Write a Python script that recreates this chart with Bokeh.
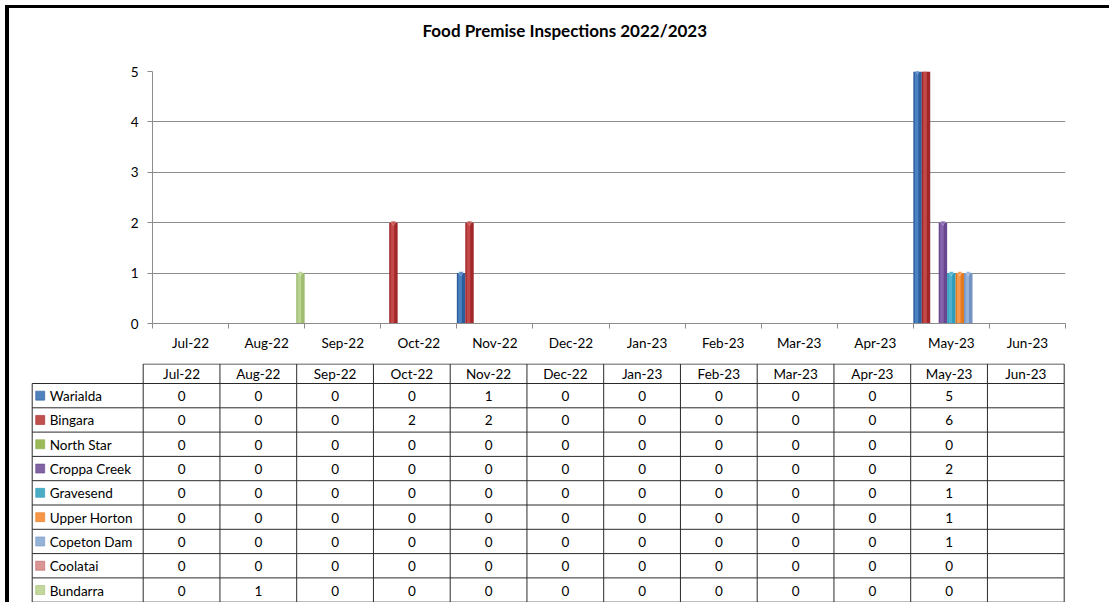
from bokeh.plotting import figure
from bokeh.models import Range1d, FixedTicker, Div, Title
from bokeh.layouts import column, row
from bokeh.embed import file_html
from bokeh.resources import INLINE
from bokeh.core.properties import value

months = ["Jul-22", "Aug-22", "Sep-22", "Oct-22", "Nov-22", "Dec-22",
          "Jan-23", "Feb-23", "Mar-23", "Apr-23", "May-23", "Jun-23"]
series = ["Warialda", "Bingara", "North Star", "Croppa Creek", "Gravesend",
          "Upper Horton", "Copeton Dam", "Coolatai", "Bundarra"]

warialda = [0, 0, 0, 0, 1, 0, 0, 0, 0, 0, 5, None]
bingara = [0, 0, 0, 2, 2, 0, 0, 0, 0, 0, 6, None]
north_star = [0, 0, 0, 0, 0, 0, 0, 0, 0, 0, 0, None]
croppa_creek = [0, 0, 0, 0, 0, 0, 0, 0, 0, 0, 2, None]
gravesend = [0, 0, 0, 0, 0, 0, 0, 0, 0, 0, 1, None]
upper_horton = [0, 0, 0, 0, 0, 0, 0, 0, 0, 0, 1, None]
copeton_dam = [0, 0, 0, 0, 0, 0, 0, 0, 0, 0, 1, None]
coolatai = [0, 0, 0, 0, 0, 0, 0, 0, 0, 0, 0, None]
bundarra = [0, 1, 0, 0, 0, 0, 0, 0, 0, 0, 0, None]
values = [warialda, bingara, north_star, croppa_creek, gravesend,
          upper_horton, copeton_dam, coolatai, bundarra]

y_ticks = [0, 1, 2, 3, 4, 5]
title_text = "Food Premise Inspections 2022/2023"

dark_colors = ["#2C5E9E", "#A1272B", "#86A84A", "#684790", "#2E9CBA",
               "#E47A1E", "#7392C2", "#BE6063", "#9EBD71"]
light_colors = ["#5287C7", "#C9504E", "#A6C46A", "#8A6AB0", "#55B5D0",
                "#F8A057", "#9BB7DC", "#D98E90", "#C0D796"]
swatch_colors = ["#4F81BD", "#C0504D", "#9BBB59", "#8064A2", "#4BACC6",
                 "#F79646", "#95B3D7", "#D99694", "#C3D69B"]

FONT = "Lato"
FS = "13.5px"
GRID = "#8C8C8C"
n_ser = len(series)

# ---------------- chart ----------------
p = figure(width=1100, height=355, output_backend="svg", toolbar_location=None,
           x_range=Range1d(-0.5, len(months) - 0.5), y_range=Range1d(0, 5),
           min_border_left=143, min_border_right=44, min_border_top=63,
           min_border_bottom=40)
p.frame_align = False
p.outline_line_color = None
p.background_fill_color = "white"
p.border_fill_color = "white"

# spacer (closest to frame) then the real title above it
p.add_layout(Title(text=" ", text_font=FONT, text_font_size="10px",
                   standoff=12), "above")
p.add_layout(Title(text=title_text, text_font=FONT, text_font_size="17px",
                   text_font_style="bold", text_color="#000000", align="left",
                   offset=270, standoff=10), "above")

bw = 1.0 / n_ser
for k, name in enumerate(series):
    xs, tops = [], []
    for i, v in enumerate(values[k]):
        if v is not None and v > 0:
            xs.append(i - 0.5 + (k + 0.5) * bw)
            tops.append(v)
    if not xs:
        continue
    p.vbar(x=xs, top=tops, bottom=0, width=bw, fill_color=dark_colors[k],
           line_color=None)
    p.vbar(x=[x - 0.12 * bw for x in xs], top=tops, bottom=0, width=bw * 0.42,
           fill_color=light_colors[k], line_color=None, fill_alpha=0.85)
    p.scatter(x=xs, y=tops, marker="inverted_triangle", size=5,
              fill_color=light_colors[k], line_color="#FFFFFF", line_alpha=0.5,
              line_width=0.5)

p.yaxis.ticker = FixedTicker(ticks=y_ticks, minor_ticks=[])
p.yaxis.axis_line_color = GRID
p.yaxis.major_tick_line_color = GRID
p.yaxis.major_tick_out = 5
p.yaxis.major_tick_in = 0
p.yaxis.minor_tick_line_color = None
p.yaxis.major_label_text_font = FONT
p.yaxis.major_label_text_font_size = FS
p.yaxis.major_label_text_color = "#000000"
p.yaxis.major_label_standoff = 9

p.xaxis.ticker = FixedTicker(ticks=list(range(len(months))),
                             minor_ticks=[i - 0.5 for i in range(len(months) + 1)])
p.xaxis.major_label_overrides = {i: m for i, m in enumerate(months)}
p.xaxis.axis_line_color = GRID
p.xaxis.major_tick_line_color = None
p.xaxis.major_tick_out = 0
p.xaxis.major_tick_in = 0
p.xaxis.minor_tick_line_color = GRID
p.xaxis.minor_tick_out = 5
p.xaxis.minor_tick_in = 0
p.xaxis.major_label_text_font = FONT
p.xaxis.major_label_text_font_size = FS
p.xaxis.major_label_text_color = "#000000"
p.xaxis.major_label_standoff = 6

p.xgrid.grid_line_color = None
p.ygrid.ticker = FixedTicker(ticks=y_ticks)
p.ygrid.grid_line_color = GRID

# ---------------- data table ----------------
TW, TH = 1100, 239
t = figure(width=TW, height=TH, output_backend="svg", toolbar_location=None,
           x_range=Range1d(0, TW), y_range=Range1d(TH, 0),
           min_border=0)
t.frame_align = False
t.outline_line_color = None
t.axis.visible = False
t.grid.visible = False
t.background_fill_color = "white"
t.border_fill_color = "white"

name_left = 22.7
col_left = 133.7
col_w = 76.75
head_top = 0.5
head_bot = 20.0
row_h = 24.3
n_rows = len(series)
table_right = col_left + col_w * len(months)
table_bot = head_bot + row_h * n_rows
LINE = "#2A2A2A"

# horizontal lines
hx0, hx1, hy = [], [], []
hx0.append(col_left); hx1.append(table_right); hy.append(head_top)
for r in range(n_rows + 1):
    hx0.append(name_left); hx1.append(table_right); hy.append(head_bot + r * row_h)
t.segment(x0=hx0, y0=hy, x1=hx1, y1=hy, line_color=LINE, line_width=1)
# vertical lines
vx, vy0, vy1 = [name_left], [head_bot], [table_bot]
for c in range(len(months) + 1):
    vx.append(col_left + c * col_w); vy0.append(head_top); vy1.append(table_bot)
t.segment(x0=vx, y0=vy0, x1=vx, y1=vy1, line_color=LINE, line_width=1)

# header texts
t.text(x=[col_left + (c + 0.5) * col_w for c in range(len(months))],
       y=[(head_top + head_bot) / 2 + 0.5] * len(months), text=months,
       text_align="center", text_baseline="middle", text_font=value(FONT),
       text_font_size=FS, text_color="#000000")

# row names + swatches
ry = [head_bot + (r + 0.5) * row_h for r in range(n_rows)]
t.rect(x=[name_left + 8] * n_rows, y=ry, width=9, height=9,
       fill_color=swatch_colors, line_color=dark_colors, line_width=0.6)
t.text(x=[name_left + 17.5] * n_rows, y=[y + 0.5 for y in ry], text=series,
       text_align="left", text_baseline="middle", text_font=value(FONT),
       text_font_size=FS, text_color="#000000")

# cell values
cx, cy, ct = [], [], []
for r in range(n_rows):
    for c in range(len(months)):
        v = values[r][c]
        if v is None:
            continue
        cx.append(col_left + (c + 0.5) * col_w)
        cy.append(ry[r] + 0.5)
        ct.append(str(v))
t.text(x=cx, y=cy, text=ct, text_align="center", text_baseline="middle",
       text_font=value(FONT), text_font_size=FS, text_color="#000000")

# ---------------- frame (thick black border on left and top) ----------------
top_bar = Div(width=4 + TW, height=3, margin=0,
              styles={"background-color": "#000000"})
left_bar = Div(width=4, height=355 + TH, margin=0,
               styles={"background-color": "#000000"})

layout = column(top_bar,
                row(left_bar, column(p, t, margin=0, spacing=0), margin=0, spacing=0),
                margin=(5, 0, 0, 5), spacing=0)

open("out.html", "w").write(file_html(layout, INLINE))
